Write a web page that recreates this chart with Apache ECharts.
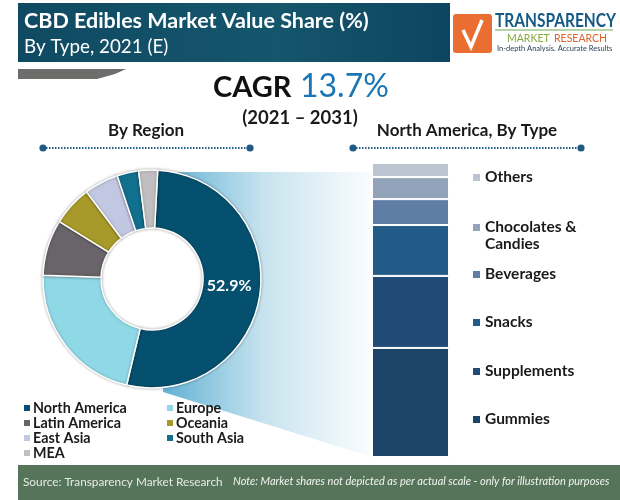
<!DOCTYPE html>
<html>
<head>
<meta charset="utf-8">
<style>html,body{margin:0;padding:0;background:#fff}#main{width:620px;height:500px}</style>
<script src="https://cdn.jsdelivr.net/npm/echarts@6/dist/echarts.min.js"></script>
</head>
<body>
<div id="main"></div>
<script>
const regions = ['North America', 'Europe', 'Latin America', 'Oceania', 'East Asia', 'South Asia', 'MEA'];
const regionShare = [52.9, 21.8, 8.3, 5.9, 5.1, 3.2, 2.8];
const regionColors = ['#06506f', '#8fd8e6', '#68646a', '#a89a2a', '#c3c8e2', '#12708f', '#c0bec0'];

// bottom to top in the stack
const types = ['Gummies', 'Supplements', 'Snacks', 'Beverages', 'Chocolates & Candies', 'Others'];
const typeShare = [37.1, 24.5, 17.3, 8.8, 7.5, 4.8];
const typeColors = ['#1c4469', '#1f4b76', '#235b88', '#5e7ea6', '#93a4ba', '#bcc4d2'];
const typeLabelY = [419, 371, 322, 274, 227, 177];

const FONT = 'Lato';
const chart = echarts.init(document.getElementById('main'));

function txt(x, y, text, size, weight, color, extra) {
  return {
    type: 'text', x: x, y: y, z: 20,
    style: Object.assign({ text: text, font: weight + ' ' + size + 'px ' + FONT, fill: color, textVerticalAlign: 'middle' }, extra || {})
  };
}

function dotLine(x1, x2, y) {
  return [
    { type: 'line', z: 5, shape: { x1: x1, y1: y, x2: x2, y2: y }, style: { stroke: '#1f5a85', lineWidth: 2, lineDash: [1.5, 1.5] } },
    { type: 'circle', z: 6, shape: { cx: x1, cy: y, r: 3.6 }, style: { fill: '#1f5a85' } },
    { type: 'circle', z: 6, shape: { cx: x2, cy: y, r: 3.6 }, style: { fill: '#1f5a85' } }
  ];
}

const graphics = [
  // funnel behind the donut
  { type: 'polygon', z: 0, shape: { points: [[160, 172], [372, 172], [372, 457], [163, 392]] },
    style: { fill: new echarts.graphic.LinearGradient(0, 0, 1, 0, [
      { offset: 0, color: '#5fb0d4' }, { offset: 0.5, color: '#c9e4ef' }, { offset: 1, color: '#fbfdff' }]) } },
  { type: 'circle', z: 1, shape: { cx: 152, cy: 279, r: 52 }, style: { fill: '#ffffff' } },
  // header
  { type: 'rect', z: 1, shape: { x: 18, y: 3, width: 432, height: 59 },
    style: { fill: new echarts.graphic.LinearGradient(0, 0, 1, 0, [
      { offset: 0, color: '#0f4a62' }, { offset: 0.6, color: '#15566c' }, { offset: 1, color: '#0d4560' }]) } },
  txt(24, 21, 'CBD Edibles Market Value Share (%)', 21.5, 'bold', '#ffffff'),
  txt(24, 47, 'By Type, 2021 (E)', 18.8, 'normal', '#ffffff'),
  // small grey tab under the header
  { type: 'polygon', z: 1, shape: { points: [[18, 69], [126, 69], [115, 74], [97, 79], [18, 79]] }, style: { fill: '#6d6d6b' } },
  // logo
  { type: 'rect', z: 1, shape: { x: 453, y: 14, width: 39, height: 39, r: 3 }, style: { fill: '#ea6e31' } },
  { type: 'polyline', z: 2, shape: { points: [[463, 30], [471, 47], [482, 20]] }, style: { stroke: '#ffffff', lineWidth: 3.5, fill: null } },
  Object.assign(txt(495, 21, 'TRANSPARENCY', 18, 'bold', '#155a85'), { scaleX: 0.86 }),
  { type: 'line', z: 2, shape: { x1: 495, y1: 30, x2: 613, y2: 30 }, style: { stroke: '#6aa84f', lineWidth: 1 } },
  txt(507, 39, 'MARKET', 10.5, 'normal', '#86a83c'),
  txt(554, 39, 'RESEARCH', 10.5, 'normal', '#d9632b'),
  txt(497, 49, 'In-depth Analysis. Accurate Results', 7.5, 'normal', '#2a3f55'),
  // cagr
  txt(213, 88, 'CAGR', 29, 'bold', '#111111'),
  txt(300, 87, '13.7%', 32, 'normal', '#1b75b5'),
  txt(300, 118, '(2021 – 2031)', 18.5, 'bold', '#1a1a1a', { textAlign: 'center' }),
  txt(146, 131, 'By Region', 17, 'bold', '#1a1a1a', { textAlign: 'center' }),
  txt(467, 131, 'North America, By Type', 17, 'bold', '#1a1a1a', { textAlign: 'center' }),
  ...dotLine(43, 250, 148),
  ...dotLine(353, 581, 148),
  // footer
  { type: 'rect', z: 1, shape: { x: 18, y: 465, width: 602, height: 35 }, style: { fill: '#56745a' } },
  txt(23, 482, 'Source: Transparency Market Research', 11.8, 'normal', '#e6ece6'),
  txt(233, 481, 'Note: Market shares not depicted as per actual scale - only for illustration purposes', 11, 'italic', '#f2f5f0')
];

// legends for the donut, two columns, with one leftover row
const legendPos = [[24, 408], [167, 408], [24, 423], [167, 423], [24, 438], [167, 438], [24, 453]];
regions.forEach(function (name, i) {
  const p = legendPos[i];
  graphics.push({ type: 'rect', z: 10, shape: { x: p[0], y: p[1] - 3, width: 6, height: 6 }, style: { fill: regionColors[i] } });
  graphics.push(txt(p[0] + 9, p[1], name, 14.3, 'bold', '#1a1a1a'));
});

types.forEach(function (name, i) {
  const y = typeLabelY[i];
  graphics.push({ type: 'rect', z: 10, shape: { x: 473, y: y - 3, width: 7, height: 7 }, style: { fill: typeColors[i] } });
  const parts = name === 'Chocolates & Candies' ? ['Chocolates &', 'Candies'] : [name];
  parts.forEach(function (t, k) {
    graphics.push(txt(485, y + k * 17, t, 15.5, 'bold', '#1a1a1a'));
  });
});

const barSeries = types.map(function (name, i) {
  return {
    name: name, type: 'bar', stack: 'type', barWidth: 77, z: 3,
    data: [typeShare[i]], silent: true,
    itemStyle: { color: typeColors[i], borderColor: '#ffffff', borderWidth: 1 }
  };
});

chart.setOption({
  animation: false,
  backgroundColor: '#ffffff',
  grid: { left: 372, top: 163, width: 77, height: 294 },
  xAxis: { type: 'category', data: ['North America'], show: false },
  yAxis: { type: 'value', min: 0, max: 100, show: false },
  series: [{
    type: 'pie', center: [152, 279], radius: [51, 109], startAngle: 87, clockwise: true, z: 4,
    silent: true, label: { show: false },
    itemStyle: { borderColor: '#ffffff', borderWidth: 1.5, shadowBlur: 3, shadowColor: 'rgba(0,0,0,0.3)' },
    data: regions.map(function (name, i) {
      const d = { name: name, value: regionShare[i], itemStyle: { color: regionColors[i] } };
      if (i === 0) {
        d.label = { show: true, position: 'inside', offset: [-5, -5], formatter: '{c}%', color: '#ffffff', fontFamily: FONT, fontWeight: 'bold', fontSize: 16 };
      }
      return d;
    })
  }].concat(barSeries),
  graphic: graphics
});
</script>
</body>
</html>
